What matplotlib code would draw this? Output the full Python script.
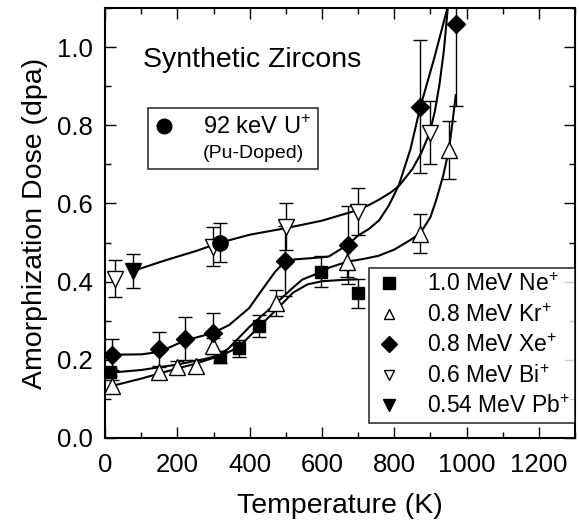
import matplotlib
matplotlib.use("Agg")
import matplotlib.pyplot as plt
from matplotlib.lines import Line2D
from matplotlib.ticker import MultipleLocator

plt.rcParams['font.family'] = ['Liberation Sans', 'DejaVu Sans']
plt.rcParams['mathtext.fontset'] = 'custom'
plt.rcParams['mathtext.rm'] = 'Liberation Sans'

# measured points: temperature (K), dose (dpa), error
ne_T = [13, 319, 369, 425, 598, 699]
ne_d = [0.168, 0.208, 0.229, 0.287, 0.425, 0.37]
ne_e = [0.01, 0.015, 0.022, 0.028, 0.04, 0.037]

kr_T = [18, 149, 200, 251, 299, 473, 670, 872, 951]
kr_d = [0.133, 0.168, 0.182, 0.184, 0.236, 0.346, 0.451, 0.523, 0.736]
kr_e = [0.015, 0.015, 0.015, 0.015, 0.02, 0.033, 0.04, 0.05, 0.074]

xe_T = [18, 149, 220, 299, 497, 671, 872, 972]
xe_d = [0.213, 0.227, 0.254, 0.269, 0.452, 0.494, 0.847, 1.059]
xe_e = [0.04, 0.045, 0.055, 0.05, 0.09, 0.1, 0.17, 0.21]

bi_T = [27, 299, 501, 699, 898]
bi_d = [0.408, 0.489, 0.54, 0.579, 0.781]
bi_e = [0.047, 0.05, 0.06, 0.06, 0.08]

pb_T = [76]
pb_d = [0.427]
pb_e = [0.043]

u_T = [319]
u_d = [0.50]
u_e = [0.05]

# fitted curves
ne_fit_T = [13, 100, 200, 280, 330, 369, 425, 470, 520, 560, 600, 650, 695]
ne_fit_d = [0.167, 0.174, 0.188, 0.203, 0.215, 0.232, 0.284, 0.325, 0.372, 0.393, 0.401, 0.404, 0.406]

kr_fit_T = [18, 100, 150, 200, 250, 300, 340, 400, 473, 520, 545, 598, 620, 670,
            720, 756, 800, 847, 872, 900, 916, 935, 951, 960, 970]
kr_fit_d = [0.133, 0.152, 0.165, 0.178, 0.19, 0.205, 0.228, 0.285, 0.345, 0.385, 0.405,
            0.425, 0.436, 0.451, 0.459, 0.466, 0.482, 0.508, 0.524, 0.565, 0.609, 0.67,
            0.737, 0.80, 0.877]

xe_fit_T = [18, 100, 149, 220, 299, 343, 398, 434, 470, 497, 526, 570, 618, 671,
            700, 730, 758, 785, 813, 845, 872, 910, 947]
xe_fit_d = [0.213, 0.214, 0.22, 0.249, 0.269, 0.289, 0.332, 0.379, 0.425, 0.451,
            0.457, 0.46, 0.464, 0.494, 0.518, 0.535, 0.557, 0.595, 0.648, 0.74, 0.847,
            0.97, 1.1]

bi_fit_T = [76, 168, 250, 319, 400, 501, 600, 684, 730, 758, 790, 813, 850, 875,
            898, 912, 925, 937, 948]
bi_fit_d = [0.427, 0.455, 0.478, 0.50, 0.52, 0.537, 0.556, 0.579, 0.596, 0.61, 0.628,
            0.645, 0.688, 0.73, 0.781, 0.835, 0.905, 0.99, 1.1]

fig = plt.figure(figsize=(5.79, 5.27), dpi=100)
ax = fig.add_axes([0.1817, 0.1689, 0.8114, 0.8159])

for t, d in [(ne_fit_T, ne_fit_d), (kr_fit_T, kr_fit_d),
             (xe_fit_T, xe_fit_d), (bi_fit_T, bi_fit_d)]:
    ax.plot(t, d, color='black', lw=1.5, zorder=2)

ebkw = dict(ecolor='black', elinewidth=1, capsize=5, capthick=1, ls='none', zorder=3)
ax.errorbar(ne_T, ne_d, yerr=ne_e, fmt='s', ms=9, mfc='black', mec='black', **ebkw)
ax.errorbar(kr_T, kr_d, yerr=kr_e, fmt='^', ms=11, mfc='white', mec='black', mew=1, **ebkw)
ax.errorbar(xe_T, xe_d, yerr=xe_e, fmt='D', ms=9, mfc='black', mec='black', **ebkw)
ax.errorbar(bi_T, bi_d, yerr=bi_e, fmt='v', ms=11, mfc='white', mec='black', mew=1, **ebkw)
ax.errorbar(pb_T, pb_d, yerr=pb_e, fmt='v', ms=11, mfc='black', mec='black', **ebkw)
ax.errorbar(u_T, u_d, yerr=u_e, fmt='o', ms=11, mfc='black', mec='black', **ebkw)

ax.set_xlim(0, 1300)
ax.set_ylim(0, 1.1)
ax.xaxis.set_minor_locator(MultipleLocator(100))
ax.yaxis.set_major_locator(MultipleLocator(0.2))
ax.yaxis.set_minor_locator(MultipleLocator(0.1))
ax.set_xticks(range(0, 1201, 200))
ax.yaxis.set_major_formatter(plt.FormatStrFormatter('%.1f'))
ax.tick_params(which='both', direction='in', top=True, right=True, width=1)
ax.tick_params(which='major', length=8, labelsize=18.5)
ax.tick_params(axis='x', which='major', pad=11)
ax.tick_params(axis='y', which='major', pad=9)
ax.tick_params(which='minor', length=4)
for s in ax.spines.values():
    s.set_linewidth(1.5)

ax.set_xlabel('Temperature (K)', fontsize=20.5, labelpad=11)
ax.set_ylabel('Amorphization Dose (dpa)', fontsize=20.5, labelpad=6)

ax.text(0.08, 0.879, 'Synthetic Zircons', transform=ax.transAxes,
        fontsize=20.5, va='center', ha='left')

h1 = [
    Line2D([], [], ls='none', marker='s', ms=8.5, mfc='black', mec='black'),
    Line2D([], [], ls='none', marker='^', ms=7.5, mfc='white', mec='black', mew=1),
    Line2D([], [], ls='none', marker='D', ms=8.5, mfc='black', mec='black'),
    Line2D([], [], ls='none', marker='v', ms=7.5, mfc='white', mec='black', mew=1),
    Line2D([], [], ls='none', marker='v', ms=8.5, mfc='black', mec='black'),
]
l1 = ['1.0 MeV Ne$^{+}$', '0.8 MeV Kr$^{+}$', '0.8 MeV Xe$^{+}$',
      '0.6 MeV Bi$^{+}$', '0.54 MeV Pb$^{+}$']
leg1 = ax.legend(h1, l1, loc='lower right', bbox_to_anchor=(1.0, 0.034),
                 borderaxespad=0, fontsize=16.5, frameon=True, fancybox=False,
                 edgecolor='black', handlelength=1.3, handletextpad=1.0,
                 labelspacing=0.33, borderpad=0.22)
leg1.get_frame().set_linewidth(1.2)
leg1.set_zorder(5)
ax.add_artist(leg1)

h2 = [Line2D([], [], ls='none', marker='o', ms=10.5, mfc='black', mec='black'),
      Line2D([], [], ls='none', marker='')]
l2 = ['92 keV U$^{+}$', '(Pu-Doped)']
leg2 = ax.legend(h2, l2, loc='upper left', bbox_to_anchor=(0.091, 0.767),
                 borderaxespad=0, fontsize=17, frameon=True, fancybox=False,
                 edgecolor='black', handlelength=0.76, handletextpad=1.27,
                 labelspacing=0.1, borderpad=0.3)
leg2.get_frame().set_linewidth(1.2)
leg2.get_texts()[1].set_fontsize(14)

fig.savefig('out.png', dpi=100)
